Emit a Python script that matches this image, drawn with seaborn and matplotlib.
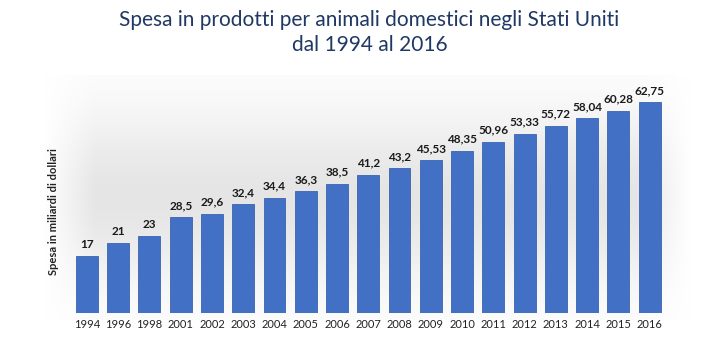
import numpy as np
import pandas as pd
import matplotlib
matplotlib.use("Agg")
import matplotlib.pyplot as plt
import seaborn as sns

years = ["1994", "1996", "1998", "2001", "2002", "2003", "2004", "2005", "2006", "2007",
         "2008", "2009", "2010", "2011", "2012", "2013", "2014", "2015", "2016"]
values = [17, 21, 23, 28.5, 29.6, 32.4, 34.4, 36.3, 38.5, 41.2,
          43.2, 45.53, 48.35, 50.96, 53.33, 55.72, 58.04, 60.28, 62.75]
value_labels = ["17", "21", "23", "28,5", "29,6", "32,4", "34,4", "36,3", "38,5", "41,2",
                "43,2", "45,53", "48,35", "50,96", "53,33", "55,72", "58,04", "60,28", "62,75"]

title = "Spesa in prodotti per animali domestici negli Stati Uniti\ndal 1994 al 2016"
ylabel = "Spesa in miliardi di dollari"

sns.set_theme(style="white")
plt.rcParams['font.family'] = ['Lato', 'DejaVu Sans']

fig = plt.figure(figsize=(7.2, 3.4), dpi=100)
fig.patch.set_facecolor("white")

# subtle grey vignette background
bg = fig.add_axes([0.06, 0.06, 0.90, 0.72], zorder=0)
yy = np.linspace(0, 1, 200)[:, None]
xx = np.linspace(0, 1, 400)[None, :]
vert = np.exp(-((yy - 0.5) / 0.35) ** 2)
horiz = np.clip(np.minimum(xx, 1 - xx) / 0.08, 0, 1)
shade = 1 - 0.10 * vert * horiz
img = np.dstack([shade, shade, shade])
bg.imshow(img, aspect="auto", extent=[0, 1, 0, 1])
bg.axis("off")

ax = fig.add_axes([0.099, 0.079, 0.825, 0.692], zorder=1)
ax.patch.set_alpha(0)
df = pd.DataFrame({"year": years, "value": values})
sns.barplot(data=df, x="year", y="value", color="#4472C4", saturation=1,
            width=0.7, ax=ax)
for p in ax.patches:
    p.set_facecolor("#4170C4")
    p.set_edgecolor("#3A64B0")
    p.set_linewidth(0.6)

for i, (v, lab) in enumerate(zip(values, value_labels)):
    ax.text(i, v + 1.8, lab, ha="center", va="bottom", fontsize=8.5,
            fontweight="bold", color="#1a1a1a")

ax.set_xlim(-0.5, len(years) - 0.5)
ax.set_ylim(0, 70)
ax.set_yticks([])
ax.set_xlabel("")
ax.set_ylabel(ylabel, fontsize=8, fontweight="bold", color="#222222")
ax.yaxis.set_label_coords(-0.02, 0.43)
ax.tick_params(axis="x", length=0, labelsize=8, colors="#222222", pad=4)
for s in ax.spines.values():
    s.set_visible(False)

fig.text(0.513, 0.905, title, ha="center", va="center", fontsize=15,
         color="#1F3864", linespacing=1.3)

fig.savefig("out.png", dpi=100)
